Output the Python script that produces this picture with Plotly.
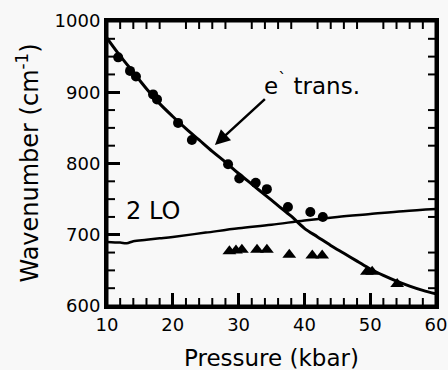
import plotly.graph_objects as go

# e- transition fitted curve
curve_p = [10, 12, 14, 16, 18, 20, 22, 24, 26, 28, 30, 32, 34, 36, 38, 40, 42, 44, 46, 48, 50, 52, 54, 56, 58, 60]
curve_w = [976, 951, 928, 905, 884, 866, 849, 833, 817, 802, 786, 771, 756, 741, 726, 709, 697, 685, 674, 663, 652, 643, 635, 628, 622, 617]

# 2 LO line
lo_p = [10, 12, 13, 14, 16, 18, 20, 25, 30, 35, 40, 45, 50, 55, 60]
lo_w = [690, 689, 688, 691, 693, 695, 697, 703, 709, 714, 720, 725, 729, 733, 736]

# measured points (circles)
circ_p = [11.7, 13.5, 14.4, 17.0, 17.6, 20.8, 22.9, 28.4, 30.1, 32.6, 34.3, 37.5, 40.9, 42.8]
circ_w = [949, 930, 922, 897, 890, 857, 833, 799, 779, 773, 764, 739, 732, 725]

# measured points (triangles)
tri_p = [28.6, 29.6, 30.5, 32.8, 34.3, 37.7, 41.2, 42.7, 49.5, 50.3, 54.1]
tri_w = [677, 678, 679, 679, 679, 672, 671, 671, 648, 648, 631]

# axis tick values
x_major = [10, 20, 30, 40, 50, 60]
x_minor = [12, 14, 16, 18, 22, 24, 26, 28, 32, 34, 36, 38, 42, 44, 46, 48, 52, 54, 56, 58]
y_major = [600, 700, 800, 900, 1000]
y_minor = [625, 650, 675, 725, 750, 775, 825, 850, 875, 925, 950, 975]

x_title = "Pressure (kbar)"
y_title = "Wavenumber (cm<sup>-1</sup>)"

FONT = "DejaVu Sans"

fig = go.Figure()
fig.add_trace(go.Scatter(x=curve_p, y=curve_w, mode="lines", line=dict(color="black", width=3, shape="spline"), showlegend=False))
fig.add_trace(go.Scatter(x=lo_p, y=lo_w, mode="lines", line=dict(color="black", width=2.5, shape="spline"), showlegend=False))
fig.add_trace(go.Scatter(x=circ_p, y=circ_w, mode="markers", marker=dict(symbol="circle", size=10, color="black"), showlegend=False))
fig.add_trace(go.Scatter(x=tri_p, y=tri_w, mode="markers", marker=dict(symbol="triangle-up", size=12, color="black"), showlegend=False))

fig.add_annotation(x=33.6, y=912, text="e<sup>`</sup> trans.", showarrow=False, xanchor="left", yanchor="middle",
                   font=dict(family=FONT, size=23, color="black"))
fig.add_annotation(x=26.4, y=826, ax=34.3, ay=893, xref="x", yref="y", axref="x", ayref="y",
                   text=" ", showarrow=True, arrowhead=2, arrowsize=1.2, arrowwidth=2.5, arrowcolor="black",
                   startstandoff=0, font=dict(size=2))
fig.add_annotation(x=12.6, y=733, text="2 LO", showarrow=False, xanchor="left", yanchor="middle",
                   font=dict(family=FONT, size=24, color="black"))

# axis titles
fig.add_annotation(x=0.5, y=-0.182, xref="paper", yref="paper", text=x_title, showarrow=False,
                   xanchor="center", yanchor="middle", font=dict(family=FONT, size=23, color="black"))
fig.add_annotation(x=-0.243, y=0.5, xref="paper", yref="paper", text=y_title, showarrow=False, textangle=-90,
                   xanchor="center", yanchor="middle", font=dict(family=FONT, size=24, color="black"))

# frame
fig.add_shape(type="rect", xref="paper", yref="paper", x0=0, x1=1, y0=0, y1=1,
              line=dict(color="black", width=3))
# minor inward ticks on all four sides
for v in x_minor:
    fig.add_shape(type="line", xref="x", yref="paper", ysizemode="pixel", yanchor=0,
                  x0=v, x1=v, y0=0, y1=8, line=dict(color="black", width=2))
    fig.add_shape(type="line", xref="x", yref="paper", ysizemode="pixel", yanchor=1,
                  x0=v, x1=v, y0=0, y1=-8, line=dict(color="black", width=2))
for v in y_minor:
    fig.add_shape(type="line", yref="y", xref="paper", xsizemode="pixel", xanchor=0,
                  y0=v, y1=v, x0=0, x1=8, line=dict(color="black", width=2))
    fig.add_shape(type="line", yref="y", xref="paper", xsizemode="pixel", xanchor=1,
                  y0=v, y1=v, x0=0, x1=-8, line=dict(color="black", width=2))

fig.update_xaxes(range=[10, 60], tickvals=x_major, showgrid=False,
                 showline=True, linecolor="black", linewidth=3, mirror=True,
                 ticks="inside", ticklen=13, tickwidth=3, tickcolor="black",
                 tickfont=dict(family=FONT, size=18, color="black"))
fig.update_yaxes(range=[600, 1000], tickvals=y_major, showgrid=False,
                 showline=True, linecolor="black", linewidth=3, mirror=True,
                 ticks="inside", ticklen=13, tickwidth=3, tickcolor="black",
                 tickfont=dict(family=FONT, size=18, color="black"))

fig.update_layout(
    template="none",
    width=448, height=370,
    margin=dict(l=107, r=12, t=21, b=64),
    paper_bgcolor="#f8f8f8", plot_bgcolor="#f8f8f8",
    font=dict(family=FONT, color="black"),
)
fig.write_html("out.html")
